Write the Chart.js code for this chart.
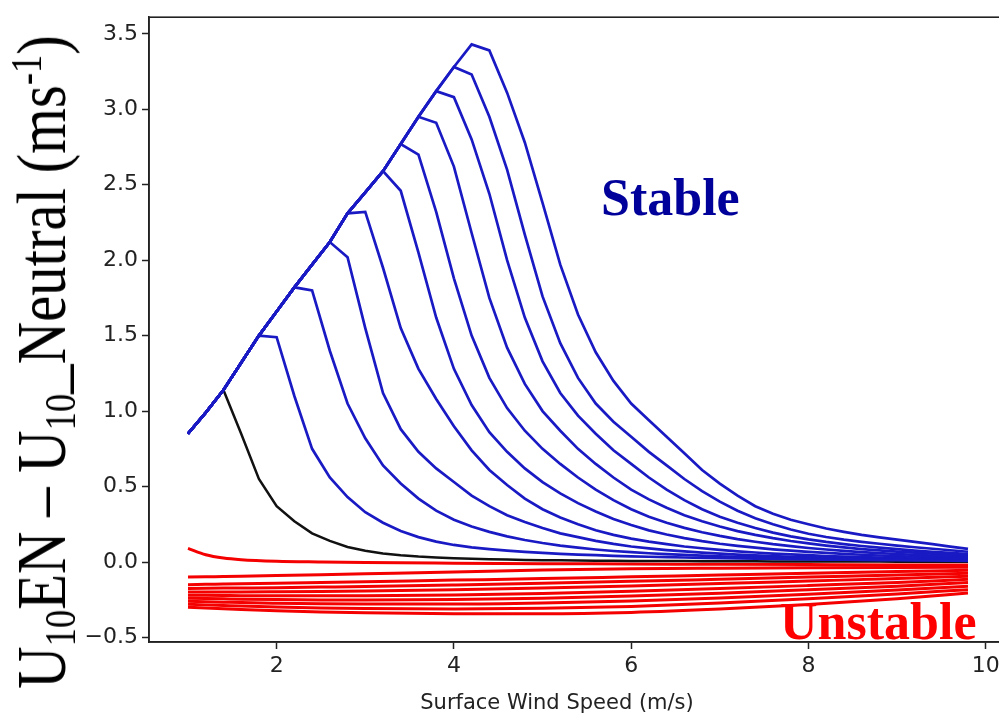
<!DOCTYPE html>
<html>
<head>
<meta charset="utf-8">
<title>U10EN - U10 Neutral vs surface wind speed</title>
<script src="https://cdn.jsdelivr.net/npm/chart.js@4.4.1/dist/chart.umd.min.js"></script>
<style>
  html, body { margin: 0; padding: 0; background: #fff; overflow: hidden; }
  #stage { position: relative; width: 999px; height: 715px; overflow: hidden; }
  #chart { position: absolute; left: 0; top: 0; }
  .lbl { position: absolute; white-space: nowrap; line-height: 1; }
  #ylab { left: 42px; top: 362px; font: 70px 'Liberation Serif', 'Times New Roman', serif; color: #000;
          transform: translate(-50%, -50%) rotate(-90deg) scaleX(0.84); }
  #ylab sub, #ylab sup { font-size: 0.62em; line-height: 0; }
  #ylab sub { vertical-align: -0.22em; }
  #ylab sup { vertical-align: 0.55em; }
  #xlab { left: 557px; top: 690px; transform: translateX(-50%); font: 21px 'DejaVu Sans', sans-serif; color: #222; }
  .tag { font-family: 'Liberation Serif', 'Times New Roman', serif; font-weight: bold; font-size: 52px; }
  #stable { left: 601px; top: 172px; color: #00009a; }
  #unstable { left: 780px; top: 596px; color: #ff0000; }
</style>
</head>
<body>
<div id="stage">
  <canvas id="chart" width="1020" height="715"></canvas>
  <div id="ylab" class="lbl">U<sub>10</sub>EN – U<sub>10</sub>_Neutral (ms<sup>-1</sup>)</div>
  <div id="xlab" class="lbl">Surface Wind Speed (m/s)</div>
  <div id="stable" class="lbl tag">Stable</div>
  <div id="unstable" class="lbl tag">Unstable</div>
</div>
<script>
// ---- axis ticks / limits ----
const X_TICKS = [2, 4, 6, 8, 10];
const Y_TICKS = [-0.5, 0.0, 0.5, 1.0, 1.5, 2.0, 2.5, 3.0, 3.5];
const X_MIN = 0.56, X_MAX = 10.24;
const Y_MIN = -0.53, Y_MAX = 3.61;

// ---- stable cases (wind speed grid, 0.2 m/s) ----
const X_GRID = [1.0, 1.2, 1.4, 1.6, 1.8, 2.0, 2.2, 2.4, 2.6, 2.8, 3.0, 3.2, 3.4, 3.6, 3.8,
  4.0, 4.2, 4.4, 4.6, 4.8, 5.0, 5.2, 5.4, 5.6, 5.8, 6.0, 6.2, 6.4, 6.6, 6.8, 7.0,
  7.2, 7.4, 7.6, 7.8, 8.0, 8.2, 8.4, 8.6, 8.8, 9.0, 9.2, 9.4, 9.6, 9.8];

// shared rising branch, 1.0 .. 4.2 m/s
const ENVELOPE = [0.85, 0.99, 1.14, 1.32, 1.50, 1.66, 1.82, 1.97, 2.12, 2.31, 2.45, 2.59, 2.77, 2.95, 3.12, 3.28, 3.43];

// wind speed where each curve leaves the rising branch (first one is the black curve)
const PEAK_X = [1.4, 1.8, 2.2, 2.6, 2.8, 3.2, 3.4, 3.6, 3.8, 4.0, 4.2];

// falling branch of each curve, from the grid point after its peak up to 9.8 m/s
const TAIL_0 = [0.85, 0.55, 0.37, 0.27, 0.19, 0.14, 0.10, 0.075, 0.057, 0.045, 0.036, 0.030, 0.025, 0.021, 0.018, 0.016, 0.014, 0.012, 0.011, 0.010, 0.009, 0.008, 0.0075, 0.007, 0.0065, 0.006, 0.0055, 0.005, 0.0047, 0.0044, 0.0041, 0.0038, 0.0035, 0.0033, 0.0031, 0.0029, 0.0027, 0.0025, 0.0023, 0.0021, 0.002, 0.0019];
const TAIL_1 = [1.49, 1.10, 0.75, 0.56, 0.43, 0.33, 0.26, 0.205, 0.165, 0.135, 0.113, 0.097, 0.085, 0.075, 0.067, 0.060, 0.054, 0.049, 0.045, 0.041, 0.038, 0.035, 0.032, 0.030, 0.028, 0.026, 0.024, 0.022, 0.020, 0.019, 0.017, 0.016, 0.015, 0.014, 0.013, 0.012, 0.011, 0.010, 0.009, 0.008];
const TAIL_2 = [1.80, 1.40, 1.05, 0.82, 0.64, 0.52, 0.42, 0.34, 0.28, 0.235, 0.20, 0.17, 0.146, 0.126, 0.109, 0.095, 0.083, 0.073, 0.065, 0.058, 0.052, 0.047, 0.042, 0.038, 0.034, 0.031, 0.028, 0.026, 0.024, 0.022, 0.020, 0.019, 0.017, 0.016, 0.015, 0.014, 0.013, 0.012];
const TAIL_3 = [2.02, 1.55, 1.12, 0.88, 0.73, 0.62, 0.53, 0.44, 0.37, 0.31, 0.265, 0.225, 0.19, 0.165, 0.14, 0.12, 0.103, 0.09, 0.079, 0.07, 0.062, 0.055, 0.049, 0.044, 0.039, 0.035, 0.032, 0.029, 0.026, 0.023, 0.021, 0.019, 0.018, 0.016, 0.015, 0.014];
const TAIL_4 = [2.32, 1.95, 1.55, 1.28, 1.08, 0.90, 0.74, 0.61, 0.51, 0.42, 0.35, 0.295, 0.25, 0.21, 0.18, 0.155, 0.135, 0.118, 0.103, 0.091, 0.08, 0.071, 0.063, 0.056, 0.05, 0.045, 0.04, 0.036, 0.032, 0.029, 0.026, 0.023, 0.021, 0.019, 0.017];
const TAIL_5 = [2.46, 2.05, 1.62, 1.28, 1.04, 0.86, 0.73, 0.62, 0.53, 0.455, 0.39, 0.335, 0.285, 0.245, 0.21, 0.182, 0.158, 0.138, 0.121, 0.107, 0.095, 0.084, 0.075, 0.067, 0.06, 0.054, 0.048, 0.043, 0.039, 0.035, 0.031, 0.028, 0.025];
const TAIL_6 = [2.70, 2.32, 1.88, 1.50, 1.22, 1.02, 0.87, 0.75, 0.65, 0.56, 0.48, 0.41, 0.35, 0.30, 0.26, 0.226, 0.197, 0.173, 0.152, 0.134, 0.118, 0.105, 0.093, 0.083, 0.074, 0.066, 0.059, 0.053, 0.047, 0.042, 0.038, 0.034];
const TAIL_7 = [2.91, 2.62, 2.18, 1.75, 1.42, 1.18, 1.00, 0.87, 0.75, 0.65, 0.56, 0.48, 0.415, 0.36, 0.31, 0.27, 0.235, 0.205, 0.18, 0.158, 0.139, 0.123, 0.109, 0.097, 0.086, 0.077, 0.069, 0.062, 0.055, 0.049, 0.044];
const TAIL_8 = [3.08, 2.80, 2.44, 2.00, 1.62, 1.33, 1.12, 0.97, 0.85, 0.74, 0.65, 0.56, 0.48, 0.41, 0.35, 0.30, 0.26, 0.225, 0.195, 0.17, 0.15, 0.133, 0.119, 0.106, 0.095, 0.085, 0.076, 0.068, 0.06, 0.053];
const TAIL_9 = [3.23, 2.95, 2.60, 2.17, 1.76, 1.45, 1.22, 1.05, 0.93, 0.83, 0.73, 0.64, 0.55, 0.47, 0.40, 0.34, 0.29, 0.25, 0.215, 0.187, 0.166, 0.148, 0.134, 0.121, 0.109, 0.098, 0.088, 0.078, 0.068];
const TAIL_10 = [3.39, 3.11, 2.78, 2.38, 1.97, 1.64, 1.39, 1.20, 1.05, 0.94, 0.83, 0.72, 0.61, 0.52, 0.44, 0.37, 0.32, 0.28, 0.25, 0.222, 0.20, 0.18, 0.163, 0.148, 0.133, 0.118, 0.102, 0.087];
const TAILS = [TAIL_0, TAIL_1, TAIL_2, TAIL_3, TAIL_4, TAIL_5, TAIL_6, TAIL_7, TAIL_8, TAIL_9, TAIL_10];

// ---- unstable cases ----
const X_RED = [1.0, 1.2, 1.4, 1.6, 2.0, 2.5, 3.0, 4.0, 5.0, 6.0, 7.0, 8.0, 9.0, 9.8];
const RED_1 = [0.09, 0.048, 0.026, 0.015, 0.005, 0.0, -0.004, -0.008, -0.011, -0.013, -0.015, -0.017, -0.019, -0.02];
const RED_2 = [-0.10, -0.098, -0.096, -0.094, -0.09, -0.084, -0.078, -0.066, -0.053, -0.045, -0.041, -0.038, -0.036, -0.035];
const RED_3 = [-0.15, -0.148, -0.146, -0.144, -0.14, -0.135, -0.13, -0.12, -0.11, -0.098, -0.086, -0.074, -0.063, -0.055];
const RED_4 = [-0.175, -0.174, -0.173, -0.172, -0.17, -0.166, -0.162, -0.152, -0.141, -0.128, -0.114, -0.1, -0.086, -0.075];
const RED_5 = [-0.198, -0.198, -0.198, -0.198, -0.197, -0.195, -0.192, -0.184, -0.173, -0.159, -0.143, -0.126, -0.109, -0.095];
const RED_6 = [-0.22, -0.221, -0.222, -0.223, -0.224, -0.224, -0.223, -0.218, -0.208, -0.194, -0.176, -0.156, -0.135, -0.115];
const RED_7 = [-0.24, -0.242, -0.244, -0.246, -0.249, -0.251, -0.252, -0.249, -0.24, -0.226, -0.207, -0.184, -0.16, -0.135];
const RED_8 = [-0.26, -0.263, -0.266, -0.269, -0.273, -0.277, -0.279, -0.279, -0.272, -0.258, -0.238, -0.213, -0.185, -0.16];
const RED_9 = [-0.28, -0.284, -0.288, -0.292, -0.298, -0.304, -0.308, -0.311, -0.307, -0.294, -0.272, -0.244, -0.212, -0.183];
const RED_10 = [-0.30, -0.305, -0.31, -0.315, -0.323, -0.331, -0.336, -0.342, -0.343, -0.334, -0.312, -0.281, -0.243, -0.205];
const REDS = [RED_1, RED_2, RED_3, RED_4, RED_5, RED_6, RED_7, RED_8, RED_9, RED_10];

// colours
const BLUE = '#1a1ac4';
const RED = '#f40000';
const BLACK = '#111111';
const AXIS = '#222222';
const TICK_FONT = { family: "'DejaVu Sans', sans-serif", size: 22 };

function stableSeries(peakX, tail) {
  const p = X_GRID.indexOf(peakX);
  const ys = ENVELOPE.slice(0, p + 1).concat(tail);
  return ys.map((y, i) => ({ x: X_GRID[i], y: y })).filter(pt => pt.x !== undefined);
}

const datasets = [];
PEAK_X.forEach((px, k) => {
  const black = k === 0;
  datasets.push({
    data: stableSeries(px, TAILS[k]),
    borderColor: black ? BLACK : BLUE,
    borderWidth: black ? 2.5 : 2.7,
    order: black ? 1 : 0
  });
});
REDS.forEach(ys => {
  datasets.push({
    data: ys.map((y, i) => ({ x: X_RED[i], y: y })),
    borderColor: RED,
    borderWidth: 3,
    cubicInterpolationMode: 'monotone',
    order: 2
  });
});

// box round the plot (matplotlib style spines)
const frame = {
  id: 'frame',
  afterDraw(chart) {
    const a = chart.chartArea, ctx = chart.ctx;
    ctx.save();
    ctx.strokeStyle = AXIS;
    ctx.lineWidth = 1.6;
    ctx.strokeRect(a.left, a.top, a.right - a.left, a.bottom - a.top);
    ctx.restore();
  }
};

new Chart(document.getElementById('chart'), {
  type: 'line',
  data: { datasets: datasets },
  plugins: [frame],
  options: {
    responsive: false,
    animation: false,
    events: [],
    layout: { padding: { top: 7, right: 13, left: 0, bottom: 0 } },
    elements: { point: { radius: 0 }, line: { tension: 0, fill: false } },
    plugins: { legend: { display: false }, tooltip: { enabled: false } },
    scales: {
      x: {
        type: 'linear', min: X_MIN, max: X_MAX,
        afterBuildTicks: s => { s.ticks = X_TICKS.map(v => ({ value: v })); },
        afterFit: s => { s.height = 73; },
        grid: { drawOnChartArea: false, tickLength: 7, tickWidth: 1.5, color: AXIS },
        border: { color: AXIS, width: 1.6 },
        ticks: { font: TICK_FONT, color: AXIS, padding: 4, maxRotation: 0, autoSkip: false,
                 callback: v => String(v) }
      },
      y: {
        type: 'linear', min: Y_MIN, max: Y_MAX,
        afterBuildTicks: s => { s.ticks = Y_TICKS.map(v => ({ value: v })); },
        afterFit: s => { s.width = 149; },
        grid: { drawOnChartArea: false, tickLength: 7, tickWidth: 1.5, color: AXIS },
        border: { color: AXIS, width: 1.6 },
        ticks: { font: TICK_FONT, color: AXIS, padding: 4,
                 callback: v => v.toFixed(1).replace('-', '\u2212') }
      }
    }
  }
});
</script>
</body>
</html>
